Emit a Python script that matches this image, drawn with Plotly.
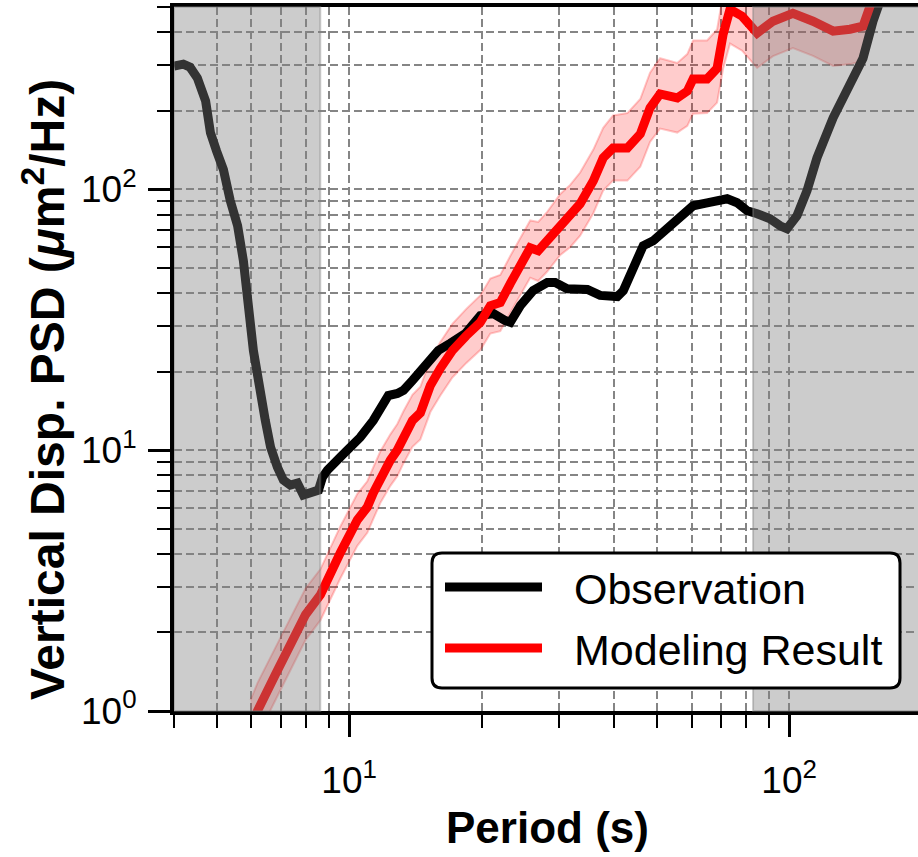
import math
import plotly.graph_objects as go

# ---- observed vertical displacement PSD (period in s, PSD in um^2/Hz) ----
obs_period = [4.0, 4.20, 4.35, 4.52, 4.72, 4.84, 5.0, 5.18, 5.37, 5.58, 5.75, 5.90,
              6.06, 6.45, 6.63, 6.87, 7.09, 7.35, 7.63, 7.87, 8.17, 8.52, 8.70, 8.93,
              9.55, 10.07, 10.6, 11.35, 11.96, 12.28, 12.88, 13.29, 13.93, 14.52, 15.30,
              15.95, 16.98, 18.37, 19.87, 21.27, 22.64, 23.24, 24.5, 26.2, 28.2, 29.4,
              31.3, 33.5, 34.8, 37.2, 40.7, 42.0, 44.2, 46.6, 49.1, 52.8, 56.5, 60.5,
              65.1, 72.3, 76.2, 80.3, 84.6, 90.5, 95.4, 98.9, 104.2, 109.8, 115.7,
              125.9, 137.5, 147.2, 155.1, 160.9]
obs_psd = [297, 302, 294, 267, 218, 165, 140, 119, 90.4, 72.5, 53.3, 37.5,
           24.1, 13.0, 10.27, 8.61, 7.68, 7.35, 7.48, 6.73, 6.85, 7.03, 7.88, 8.38,
           9.40, 10.18, 11.2, 13.0, 14.9, 16.2, 16.5, 16.96, 18.5, 20.2, 22.1,
           24.1, 25.7, 28.0, 32.8, 33.4, 31.4, 30.9, 35.8, 40.9, 43.9, 43.9,
           41.6, 40.9, 41.3, 39.2, 38.8, 40.9, 51.0, 60.8, 63.5, 70.6, 79.2, 86.5,
           88.8, 92.0, 88.8, 82.8, 80.6, 77.1, 72.5, 70.6, 79.2, 98.7, 132,
           188, 253, 318, 441, 526]

# ---- modelled PSD with its uncertainty envelope ----
mod_period = [5.97, 6.19, 6.80, 7.35, 7.96, 8.61, 8.98, 9.55, 10.44, 11.0, 11.35, 11.78,
              12.41, 12.87, 13.29, 13.93, 14.52, 15.30, 16.12, 17.17, 18.47, 19.87,
              20.94, 22.06, 23.24, 24.49, 25.8, 26.9, 28.2, 30.2, 31.8, 33.5, 35.9,
              37.8, 39.8, 42.9, 45.9, 48.3, 50.9, 55.7, 58.7, 60.5, 65.1, 68.6, 70.8,
              73.4, 78.2, 84.6, 91.9, 102, 113.3, 125.9, 137.5, 147.2, 152.7, 156.7]
mod_psd = [0.85, 1.0, 1.38, 1.80, 2.34, 2.79, 3.27, 4.04, 5.40, 6.05, 6.85, 7.88,
           9.16, 10.0, 11.2, 13.0, 13.9, 17.7, 20.6, 24.1, 27.5, 30.9,
           35.8, 36.8, 43.5, 51.0, 59.7, 58.2, 63.5, 73.8, 79.2, 88.0, 107.8,
           132, 144, 144, 163, 205, 232, 224, 238, 265, 265, 291, 393,
           490, 461, 397, 441, 473, 441, 404, 411, 422, 503, 574]
mod_upper = [1.10, 1.28, 1.75, 2.28, 2.95, 3.5, 4.1, 5.1, 6.8, 7.6, 8.6, 9.9,
             11.5, 12.6, 14.1, 16.3, 17.5, 22.3, 26.0, 30.5, 34.8, 39.2,
             45.5, 47.0, 55.5, 65.0, 76.0, 75.0, 82.0, 96.0, 104, 116, 142,
             172, 192, 196, 222, 280, 318, 305, 330, 372, 372, 410, 560,
             690, 660, 600, 650, 690, 650, 600, 610, 625, 740, 850]
mod_lower = [0.68, 0.80, 1.10, 1.44, 1.87, 2.23, 2.60, 3.22, 4.30, 4.82, 5.45, 6.28,
             7.30, 7.95, 8.90, 10.3, 11.0, 14.0, 16.2, 19.0, 21.6, 24.2,
             28.0, 28.6, 33.6, 39.3, 45.8, 44.5, 48.4, 56.0, 60.0, 66.4, 81.0,
             99.0, 108, 108, 122, 152, 171, 165, 175, 195, 196, 215, 290,
             362, 340, 292, 324, 348, 325, 297, 302, 310, 370, 420]

# period bands outside the reliable range, shaded grey
shaded_periods = [(4.0, 8.6), (82.8, 200.0)]

# axis extents and tick labels
x_limits = (4.0, 196.3)
y_limits = (1.0, 500.0)
x_major = [10, 100]
x_major_text = ["10<sup>1</sup>", "10<sup>2</sup>"]
y_major = [1, 10, 100]
y_major_text = ["10<sup>0</sup>", "10<sup>1</sup>", "10<sup>2</sup>"]

series_names = ["Observation", "Modeling Result"]
series_colors = ["black", "red"]

FONT = "Liberation Sans, Arial, Helvetica, sans-serif"
W, H = 918, 857
M_L, M_R, M_T, M_B = 174, 0, 7, 146
PW, PH = W - M_L - M_R, H - M_T - M_B


def minor_values(lo, hi):
    vals = []
    for e in range(-1, 4):
        for m in range(2, 10):
            v = m * 10 ** e
            if lo <= v <= hi:
                vals.append(v)
    return vals


def px_x(px):
    return (px - M_L) / PW


def px_y(py):
    return (H - M_B - py) / PH


fig = go.Figure()

# uncertainty envelope of the model
fig.add_trace(go.Scatter(x=mod_period, y=mod_lower, mode="lines",
                         line=dict(color="rgba(255,0,0,0.22)", width=2),
                         showlegend=False, hoverinfo="skip"))
fig.add_trace(go.Scatter(x=mod_period, y=mod_upper, mode="lines",
                         line=dict(color="rgba(255,0,0,0.22)", width=2),
                         fill="tonexty", fillcolor="rgba(255,0,0,0.2)",
                         showlegend=False, hoverinfo="skip"))
fig.add_trace(go.Scatter(x=obs_period, y=obs_psd, mode="lines", name=series_names[0],
                         line=dict(color=series_colors[0], width=9), showlegend=False))
fig.add_trace(go.Scatter(x=mod_period, y=mod_psd, mode="lines", name=series_names[1],
                         line=dict(color=series_colors[1], width=9), showlegend=False))

for x0, x1 in shaded_periods:
    fig.add_vrect(x0=x0, x1=x1, fillcolor="rgba(128,128,128,0.4)",
                  line=dict(color="rgba(128,128,128,0.4)", width=2), layer="above")

grid = dict(showgrid=True, gridcolor="#858585", gridwidth=2, griddash="8px,4px")

fig.update_xaxes(type="log", range=[math.log10(x_limits[0]), math.log10(x_limits[1])],
                 showline=True, linecolor="black", linewidth=4, mirror=True,
                 ticks="outside", ticklen=22, tickwidth=3, tickcolor="black",
                 tickmode="array", tickvals=x_major, ticktext=x_major_text,
                 tickfont=dict(family=FONT, size=37, color="black"),
                 ticklabelstandoff=12,
                 minor=dict(tickmode="array", tickvals=minor_values(*x_limits),
                            ticks="outside", ticklen=13, tickwidth=2, tickcolor="black",
                            **grid),
                 zeroline=False, **grid)
fig.update_yaxes(type="log", range=[math.log10(y_limits[0]), math.log10(y_limits[1])],
                 showline=True, linecolor="black", linewidth=4, mirror=False,
                 ticks="outside", ticklen=22, tickwidth=3, tickcolor="black",
                 tickmode="array", tickvals=y_major, ticktext=y_major_text,
                 tickfont=dict(family=FONT, size=37, color="black"),
                 ticklabelstandoff=4,
                 minor=dict(tickmode="array", tickvals=minor_values(*y_limits),
                            ticks="outside", ticklen=13, tickwidth=2, tickcolor="black",
                            **grid),
                 zeroline=False, **grid)

# axis titles
fig.add_annotation(text="<b>Period (s)</b>", xref="paper", yref="paper",
                   x=px_x(547), y=px_y(827), xanchor="center", yanchor="middle",
                   showarrow=False, font=dict(family=FONT, size=44, color="black"))
fig.add_annotation(text="<b>Vertical Disp. PSD (<i>μ</i>m<sup>2</sup>/Hz)</b>",
                   xref="paper", yref="paper", x=px_x(44), y=px_y(390),
                   xanchor="center", yanchor="middle", textangle=-90,
                   showarrow=False, font=dict(family=FONT, size=48, color="black"))

# legend box with rounded corners
bx0, bx1, by0, by1, r = 432, 900, 553, 688, 10
pts = [
    ("M", bx0 + r, by0), ("L", bx1 - r, by0), ("Q", bx1, by0, bx1, by0 + r),
    ("L", bx1, by1 - r), ("Q", bx1, by1, bx1 - r, by1), ("L", bx0 + r, by1),
    ("Q", bx0, by1, bx0, by1 - r), ("L", bx0, by0 + r), ("Q", bx0, by0, bx0 + r, by0),
]
path = ""
for p in pts:
    cmd, coords = p[0], p[1:]
    xy = [f"{px_x(coords[i]):.5f},{px_y(coords[i + 1]):.5f}" for i in range(0, len(coords), 2)]
    path += cmd + " ".join(xy) + " "
path += "Z"
fig.add_shape(type="path", path=path, xref="paper", yref="paper",
              fillcolor="white", line=dict(color="black", width=3), layer="above")

for i, (name, color) in enumerate(zip(series_names, series_colors)):
    ly = 587 + i * 61
    fig.add_shape(type="line", xref="paper", yref="paper",
                  x0=px_x(445), x1=px_x(542), y0=px_y(ly), y1=px_y(ly),
                  line=dict(color=color, width=9), layer="above")
    fig.add_annotation(text=name, xref="paper", yref="paper", x=px_x(572), y=px_y(ly + 2),
                       xanchor="left", yanchor="middle", showarrow=False,
                       font=dict(family=FONT, size=43, color="black"))

fig.update_layout(width=W, height=H, margin=dict(l=M_L, r=M_R, t=M_T, b=M_B),
                  plot_bgcolor="white", paper_bgcolor="white", showlegend=False,
                  font=dict(family=FONT, color="black"))

fig.write_html("out.html")
